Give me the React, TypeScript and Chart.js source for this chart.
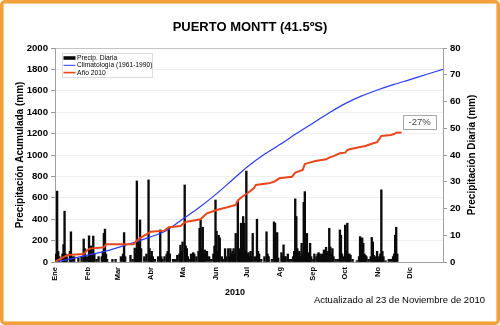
import React, { useEffect, useRef } from 'react';
import { Chart, registerables } from 'chart.js';

Chart.register(...registerables);

const FONT = "'Liberation Sans', Arial, sans-serif";

const chartTitle = 'PUERTO MONTT (41.5ºS)';
const leftAxisTitle = 'Precipitación Acumulada (mm)';
const rightAxisTitle = 'Precipitación Diaria (mm)';
const xAxisTitle = '2010';
const updatedNote = 'Actualizado al 23 de Noviembre de 2010';
const anomalyLabel = '-27%';
const anomalyDay = 343;
const anomalyValue = 1310;

const monthStarts = [0, 31, 59, 90, 120, 151, 181, 212, 243, 273, 304, 334];
const monthLabels = ['Ene', 'Feb', 'Mar', 'Abr', 'Ma', 'Jun', 'Jul', 'Ag', 'Sep', 'Oct', 'No', 'Dic'];

const seriesLabels = ['Precip. Diaria', 'Climatología (1961-1990)', 'Año 2010'];

// Climatology cumulative (mm) by day of year
const climDays = [0, 15, 31, 45, 59, 75, 90, 105, 120, 135, 151, 166, 181, 196, 212, 227, 243, 258, 273, 288, 304, 319, 334, 350, 365];
const climValues = [0, 30, 65, 95, 135, 185, 235, 295, 400, 505, 630, 760, 890, 1000, 1100, 1200, 1300, 1395, 1480, 1550, 1610, 1660, 1705, 1755, 1800];

// Year 2010 cumulative (mm) by day of year
const yearDays = [0, 3, 9, 12, 27, 30, 33, 46, 48, 74, 77, 81, 88, 90, 103, 107, 118, 122, 124, 137, 139, 143, 152, 162, 170, 172, 176, 181, 187, 189, 201, 206, 211, 223, 226, 233, 235, 237, 245, 255, 258, 262, 268, 273, 275, 277, 286, 292, 298, 303, 307, 316, 319, 321, 326];
const yearValues = [0, 20, 50, 65, 75, 110, 125, 137, 165, 167, 200, 230, 270, 283, 293, 324, 336, 370, 377, 399, 420, 455, 486, 511, 533, 575, 610, 642, 689, 720, 735, 750, 782, 797, 835, 860, 915, 922, 944, 960, 975, 990, 1016, 1022, 1045, 1053, 1072, 1084, 1105, 1120, 1178, 1187, 1196, 1208, 1210];

// Daily precipitation (mm) by day of year
const dailyDays = [1, 2, 3, 4, 7, 8, 9, 10, 11, 14, 15, 16, 18, 22, 25, 27, 28, 29, 31, 32, 33, 34, 35, 36, 37, 39, 41, 44, 45, 46, 47, 48, 49, 54, 57,
  62, 64, 65, 66, 71, 73, 75, 76, 77, 78, 79, 80, 81, 84, 86, 88, 89, 90,
  91, 92, 94, 97, 99, 100, 101, 103, 105, 106, 107, 108, 111, 113, 115, 117, 118, 119, 120, 122, 123, 124,
  125, 127, 128, 130, 131, 133, 135, 136, 137, 138, 139, 140, 141, 143, 145, 147, 149, 150, 151, 152, 153, 154, 155, 157, 158, 160, 161, 163, 164, 165, 166, 167, 168, 169, 170, 172, 173, 174, 175, 176, 177, 178, 179, 180,
  181, 182, 183, 184, 185, 186, 188, 190, 191, 192, 194, 197, 199, 200, 201, 204, 206, 207, 208, 209, 210,
  213, 214, 215, 216, 217, 219, 220, 222, 224, 225, 226, 227, 228, 229, 230, 231, 232, 233, 234, 235, 236, 237, 238, 239, 240, 241,
  243, 244, 246, 247, 248, 249, 250, 251, 252, 253, 254, 255, 256, 257, 258, 259, 260, 261, 262, 264, 266, 268, 269, 270, 271,
  273, 274, 275, 276, 277, 278, 280, 284, 286, 287, 288, 289, 290, 291, 292, 293, 295, 297, 298, 299, 300, 301, 302, 303,
  304, 305, 306, 307, 308, 309, 311, 314, 316, 318, 319, 320, 321, 322];
const dailyValues = [3, 26.5, 4, 2, 3, 6.5, 19, 3, 2, 4, 11.3, 2, 2, 1.5, 2, 8.6, 5, 2, 2, 9.8, 3, 6, 3, 9.7, 3, 1, 2, 2, 4, 10.7, 12.3, 3, 1, 1, 1,
  2, 3, 11, 2, 2.5, 1, 5.2, 3, 30.3, 8, 4, 15.7, 5, 2, 3, 30.7, 5, 2,
  4, 2, 1, 2, 12, 2, 1, 2, 3, 4, 12.8, 3, 1, 1, 2.5, 3, 6.3, 4, 7.5, 28.8, 6, 5,
  2, 1, 3, 3.5, 3, 2, 4, 12.6, 15.7, 5, 13, 3, 4.5, 4, 2, 1, 3, 6, 23.2, 11.5, 4, 10, 9, 2, 1, 5, 2, 5, 2, 5, 3, 4, 5, 3, 10.7, 22.5, 5, 3, 14.5, 6, 17, 14.5, 4, 34,
  3, 3.5, 2, 4, 2, 10.7, 2, 16, 4, 3, 1, 2, 11.3, 3, 2, 1, 15, 14.5, 4, 11, 1.5,
  3.5, 2, 6.4, 2, 2, 3, 1, 1, 2, 4, 23.6, 17, 5, 3.5, 4, 2, 7, 3, 22.3, 26.3, 4, 10.7, 3.5, 2, 7, 2,
  1, 3, 2, 3, 3.5, 3, 2, 3, 2, 4.5, 3, 5.5, 3, 4, 12.6, 5.6, 3, 5, 2, 1, 1, 12, 10, 3, 2,
  13.8, 4, 14.5, 3, 3, 2.5, 1, 0.5, 2, 9.5, 4, 9, 7, 3, 2.5, 2, 1, 2, 9.2, 7.5, 2.5, 1, 2, 4,
  1, 2, 3, 27, 4, 2, 0.5, 1, 1, 2, 3, 10, 13, 3];

const COLORS = { bar: '#0a0a0a', clim: '#2a3cf2', year: '#e8461c' };

const boxLegendPlugin = {
  id: 'boxLegend',
  afterDatasetsDraw(chart: any) {
    const { ctx, chartArea } = chart;
    const x0 = chartArea.left + 7;
    const y0 = chartArea.top + 5;
    const w = 90;
    const h = 24;
    ctx.save();
    ctx.fillStyle = '#ffffff';
    ctx.fillRect(x0, y0, w, h);
    ctx.strokeStyle = '#dcdcdc';
    ctx.lineWidth = 1;
    ctx.strokeRect(x0 + 0.5, y0 + 0.5, w, h);
    ctx.font = `6.7px ${FONT}`;
    ctx.textBaseline = 'middle';
    ctx.textAlign = 'left';
    const rows = [y0 + 5, y0 + 12.3, y0 + 19.6];
    ctx.fillStyle = COLORS.bar;
    ctx.fillRect(x0 + 1.5, rows[0] - 1.8, 12, 3.6);
    ctx.strokeStyle = COLORS.clim;
    ctx.lineWidth = 1;
    ctx.beginPath();
    ctx.moveTo(x0 + 1.5, rows[1]);
    ctx.lineTo(x0 + 13.5, rows[1]);
    ctx.stroke();
    ctx.strokeStyle = COLORS.year;
    ctx.lineWidth = 1.6;
    ctx.beginPath();
    ctx.moveTo(x0 + 1.5, rows[2]);
    ctx.lineTo(x0 + 13.5, rows[2]);
    ctx.stroke();
    ctx.fillStyle = '#000';
    seriesLabels.forEach((t, i) => ctx.fillText(t, x0 + 15, rows[i] + 0.3));
    ctx.restore();
  },
};

const anomalyPlugin = {
  id: 'anomalyBox',
  afterDatasetsDraw(chart: any) {
    const { ctx, scales } = chart;
    const cx = scales.x.getPixelForValue(anomalyDay);
    const cy = scales.y.getPixelForValue(anomalyValue);
    const w = 33;
    const h = 14;
    ctx.save();
    ctx.fillStyle = '#ffffff';
    ctx.fillRect(cx - w / 2, cy - h / 2, w, h);
    ctx.strokeStyle = '#a8a8a8';
    ctx.lineWidth = 1;
    ctx.strokeRect(Math.round(cx - w / 2) + 0.5, Math.round(cy - h / 2) + 0.5, w, h);
    ctx.fillStyle = '#444';
    ctx.font = `9.5px ${FONT}`;
    ctx.textAlign = 'center';
    ctx.textBaseline = 'middle';
    ctx.fillText(anomalyLabel, cx, cy + 0.5);
    ctx.restore();
  },
};

// Right axis title reading bottom-to-top, like the left one
const rightTitlePlugin = {
  id: 'rightTitle',
  afterDraw(chart: any) {
    const { ctx, chartArea, scales } = chart;
    const s = scales.y1;
    const cx = s.right - 28;
    const cy = (chartArea.top + chartArea.bottom) / 2;
    ctx.save();
    ctx.translate(cx, cy);
    ctx.rotate(-Math.PI / 2);
    ctx.fillStyle = '#000';
    ctx.font = `bold 10px ${FONT}`;
    ctx.textAlign = 'center';
    ctx.textBaseline = 'middle';
    ctx.fillText(rightAxisTitle, 0, 0);
    ctx.restore();
  },
};

export default function App() {
  const canvasRef = useRef<HTMLCanvasElement | null>(null);

  useEffect(() => {
    const canvas = canvasRef.current;
    if (!canvas) return;
    const tickFont = { family: FONT, size: 9.6, weight: 'bold' as const };
    const chart = new Chart(canvas, {
      type: 'line',
      data: {
        datasets: [
          {
            type: 'line',
            label: seriesLabels[2],
            data: yearDays.map((d, i) => ({ x: d, y: yearValues[i] })),
            borderColor: COLORS.year,
            borderWidth: 2,
            pointRadius: 0,
            fill: false,
            yAxisID: 'y',
            order: 0,
          },
          {
            type: 'line',
            label: seriesLabels[1],
            data: climDays.map((d, i) => ({ x: d, y: climValues[i] })),
            borderColor: COLORS.clim,
            borderWidth: 1.2,
            pointRadius: 0,
            fill: false,
            tension: 0.2,
            yAxisID: 'y',
            order: 1,
          },
          {
            type: 'bar',
            label: seriesLabels[0],
            data: dailyDays.map((d, i) => ({ x: d, y: dailyValues[i] })),
            backgroundColor: COLORS.bar,
            borderWidth: 0,
            barThickness: 1.7,
            grouped: false,
            yAxisID: 'y1',
            order: 2,
          } as any,
        ],
      },
      options: {
        animation: false,
        responsive: false,
        events: [],
        layout: { padding: 0 },
        plugins: {
          legend: { display: false },
          tooltip: { enabled: false },
          title: {
            display: true,
            text: chartTitle,
            color: '#000',
            font: { family: FONT, size: 13, weight: 'bold' },
            padding: { top: 19.2, bottom: 13.2 },
          },
        },
        scales: {
          x: {
            type: 'linear',
            min: 0,
            max: 365,
            offset: false,
            afterBuildTicks: (s: any) => {
              s.ticks = monthStarts.map((v) => ({ value: v }));
            },
            afterFit: (s: any) => {
              s.height = 63;
            },
            ticks: {
              autoSkip: false,
              minRotation: 90,
              maxRotation: 90,
              padding: 5,
              color: '#000',
              font: { family: FONT, size: 7.5, weight: 'bold' },
              callback: (v: any) => monthLabels[monthStarts.indexOf(Number(v))] ?? '',
            },
            grid: { display: false, drawTicks: false, offset: false },
            border: { display: true, color: '#a0a0a0' },
          },
          y: {
            type: 'linear',
            position: 'left',
            min: 0,
            max: 2000,
            afterFit: (s: any) => {
              s.width = 55;
            },
            ticks: { stepSize: 200, padding: 3, color: '#000', font: tickFont, callback: (v: any) => String(v) },
            grid: {
              color: (c: any) => (c.tick && c.tick.value === 2000 ? '#c4c4c4' : '#efefef'),
              tickColor: '#9a9a9a',
              tickLength: 4,
            },
            border: { display: true, color: '#a0a0a0' },
            title: {
              display: true,
              text: leftAxisTitle,
              color: '#000',
              font: { family: FONT, size: 10, weight: 'bold' },
              padding: { top: 14.6, bottom: 0 },
            },
          },
          y1: {
            type: 'linear',
            position: 'right',
            min: 0,
            max: 80,
            afterFit: (s: any) => {
              s.width = 57;
            },
            ticks: { stepSize: 10, padding: 3, color: '#000', font: tickFont, callback: (v: any) => String(v) },
            grid: { drawOnChartArea: false, tickColor: '#9a9a9a', tickLength: 4 },
            border: { display: true, color: '#a0a0a0' },
            title: { display: false },
          },
        },
      } as any,
      plugins: [boxLegendPlugin, anomalyPlugin, rightTitlePlugin],
    });
    return () => chart.destroy();
  }, []);

  return (
    <div style={{ position: 'absolute', left: 0, top: 0, width: 500, height: 325, background: '#fff', overflow: 'hidden' }}>
      <canvas ref={canvasRef} width={500} height={325} style={{ position: 'absolute', left: 0, top: 0, width: 500, height: 325 }} />
      <div
        style={{
          position: 'absolute',
          left: 214,
          top: 287,
          width: 42,
          textAlign: 'center',
          font: `bold 9px ${FONT}`,
          lineHeight: '10px',
          color: '#000',
        }}
      >
        {xAxisTitle}
      </div>
      <div
        style={{
          position: 'absolute',
          right: 15,
          top: 294,
          whiteSpace: 'nowrap',
          font: `9.5px ${FONT}`,
          lineHeight: '11px',
          color: '#000',
        }}
      >
        {updatedNote}
      </div>
      <div
        style={{
          position: 'absolute',
          left: 0,
          top: 0,
          width: 500,
          height: 325,
          boxSizing: 'border-box',
          border: '3px solid #f2a03a',
          borderRadius: 5,
          boxShadow: 'inset 0 0 0 1px #f8c88a',
          pointerEvents: 'none',
        }}
      />
    </div>
  );
}
